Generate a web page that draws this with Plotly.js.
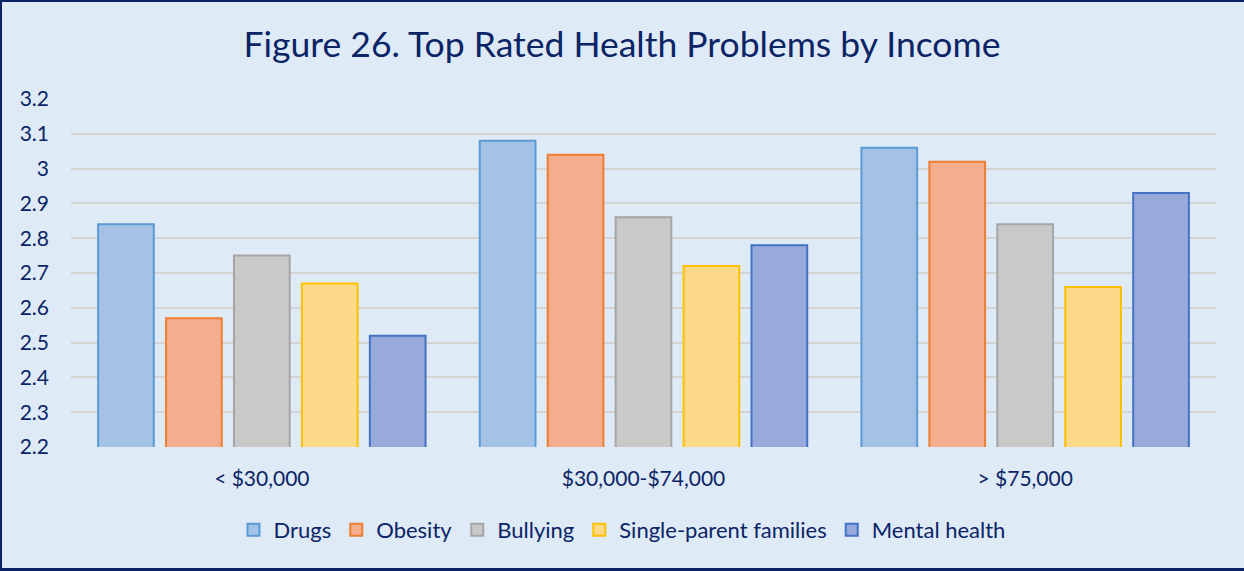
<!DOCTYPE html>
<html>
<head>
<meta charset="utf-8">
<script src="https://cdn.plot.ly/plotly-3.0.1.min.js"></script>
<style>
  html, body { margin: 0; padding: 0; background: #deeaf6; }
  #wrap { position: relative; width: 1244px; height: 571px; }
  #chart { width: 1244px; height: 571px; }
  #frame { position: absolute; left: 0; top: 0; width: 1244px; height: 571px; box-sizing: border-box;
           border-left: 2px solid #0b2466; border-top: 2px solid #0b2466; border-bottom: 3px solid #0b2466;
           pointer-events: none; }
</style>
</head>
<body>
<div id="wrap">
  <div id="chart"></div>
  <div id="frame"></div>
</div>
<script>
const categories = ["< $30,000", "$30,000-$74,000", "> $75,000"];
const seriesNames = ["Drugs", "Obesity", "Bullying", "Single-parent families", "Mental health"];
const drugs = [2.84, 3.08, 3.06];
const obesity = [2.57, 3.04, 3.02];
const bullying = [2.75, 2.86, 2.84];
const singleParent = [2.67, 2.72, 2.66];
const mentalHealth = [2.52, 2.78, 2.93];
const yTicks = [2.2, 2.3, 2.4, 2.5, 2.6, 2.7, 2.8, 2.9, 3, 3.1, 3.2];

const seriesValues = [drugs, obesity, bullying, singleParent, mentalHealth];
const fills = ["#a3c2e6", "#f5ae8d", "#c9c9c9", "#fed98a", "#98aadb"];
const lines = ["#5b9bd5", "#ed7d31", "#a5a5a5", "#ffc000", "#4472c4"];

const font = "Lato, 'Open Sans', sans-serif";
const navy = "#0b2466";

const traces = seriesValues.map((vals, i) => ({
  type: "bar",
  name: seriesNames[i],
  x: categories,
  y: vals,
  base: 0,
  marker: { color: fills[i], line: { color: lines[i], width: 2 } },
  hoverinfo: "none"
}));

const layout = {
  width: 1244, height: 571,
  paper_bgcolor: "#deeaf6",
  plot_bgcolor: "#deeaf6",
  margin: { l: 71, r: 28, t: 99, b: 124 },
  title: { text: "Figure 26. Top Rated Health Problems by Income",
           font: { family: font, size: 35.5, color: navy },
           x: 0.5, xanchor: "center", xref: "container",
           y: 1 - 45/571, yanchor: "middle", yref: "container" },
  barmode: "group",
  bargap: 0.11,
  bargroupgap: 0.18,
  xaxis: { type: "category", showgrid: false, zeroline: false, showline: false,
           ticks: "", tickfont: { family: font, size: 21, color: navy },
           ticklabelstandoff: 17 },
  yaxis: { range: [2.2, 3.2], tickvals: yTicks, ticktext: yTicks.map(v => String(v)),
           showgrid: true, gridcolor: "#d4d4d4", gridwidth: 2, zeroline: false, showline: false,
           ticks: "", tickfont: { family: font, size: 21, color: navy },
           ticklabelstandoff: 21 },
  legend: { orientation: "h", xref: "container", yref: "container",
            x: 0.5, xanchor: "center", y: 1 - 530/571, yanchor: "middle",
            font: { family: font, size: 22, color: navy },
            itemwidth: 30, tracegroupgap: 0, bgcolor: "rgba(0,0,0,0)" },
  showlegend: true
};

Plotly.newPlot("chart", traces, layout, { displayModeBar: false, staticPlot: true });
</script>
</body>
</html>
